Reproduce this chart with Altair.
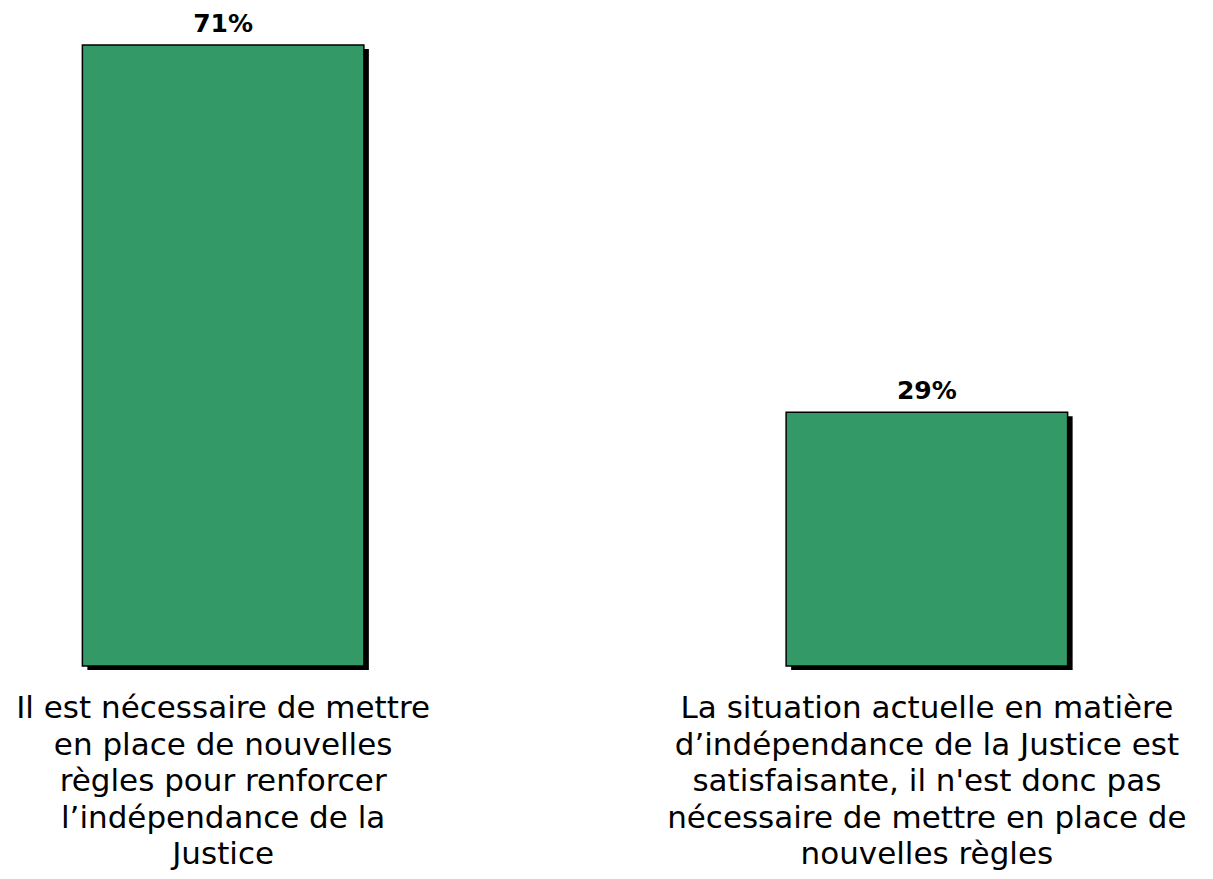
import altair as alt
import pandas as pd

categories = [
    "Il est nécessaire de mettre\nen place de nouvelles\nrègles pour renforcer\nl’indépendance de la\nJustice",
    "La situation actuelle en matière\nd’indépendance de la Justice est\nsatisfaisante, il n'est donc pas\nnécessaire de mettre en place de\nnouvelles règles",
]
values = [71, 29]
value_labels = ["71%", "29%"]

df = pd.DataFrame({"cat": categories, "value": values, "label": value_labels})

x = alt.X("cat:N", axis=None, sort=None,
          scale=alt.Scale(paddingInner=0.6, paddingOuter=0.1))
y = alt.Y("value:Q", axis=None, scale=alt.Scale(domain=[0, 71], nice=False, zero=True))

base = alt.Chart(df)

shadow = base.mark_bar(color="black", xOffset=5, yOffset=4).encode(x=x, y=y)
bars = base.mark_bar(color="#339966", stroke="black", strokeWidth=1.5).encode(x=x, y=y)
vals = base.mark_text(font="DejaVu Sans", fontSize=25, fontWeight="bold", color="black",
                      baseline="alphabetic", align="center", dy=-13).encode(
    x=x, y=y, text="label:N")
cats = base.mark_text(font="DejaVu Sans", fontSize=31, lineHeight=36.5, lineBreak="\n",
                      baseline="alphabetic", align="center", color="black").encode(
    x=x, y=alt.value(673), text="cat:N")

chart = alt.layer(shadow, bars, vals, cats).properties(
    width=1126, height=621,
    autosize=alt.AutoSizeParams(type="none"),
    padding={"left": 4, "top": 37, "right": 50, "bottom": 205},
).configure_view(stroke=None)

chart.save("out.html", embed_options={"renderer": "svg", "actions": False})
